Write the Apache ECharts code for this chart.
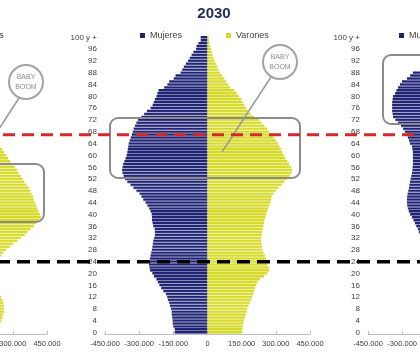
<!DOCTYPE html>
<html>
<head>
<meta charset="utf-8">
<script src="https://cdn.jsdelivr.net/npm/echarts@6/dist/echarts.min.js"></script>
<style>html,body{margin:0;padding:0;background:#fff;overflow:hidden;width:420px;height:361px}
#c{position:absolute;left:-263px;top:0;width:946px;height:361px}</style>
</head>
<body>
<div id="c"></div>
<script>
// ---- data (thousands of persons, by single age 0..100+) ----
var ageLabels = [];
for (var i = 0; i < 100; i++) ageLabels.push(String(i));
ageLabels.push('100 y +');

var titleCenter = '2030';
var legendNames = ['Mujeres', 'Varones'];
var xTicks = [-450000, -300000, -150000, 0, 150000, 300000, 450000];

// centre panel 2030
var mujeres2030 = [144,144,150,153,153,155,157,157,160,165,
 168,174,177,182,194,203,211,218,224,235,
 242,252,255,257,257,253,250,247,244,242,
 240,238,234,231,231,232,238,241,244,244,
 245,250,256,264,272,282,290,298,312,325,
 338,352,362,368,373,375,373,370,365,360,
 355,352,350,348,346,342,337,332,328,324,
 318,312,305,290,278,266,250,241,236,231,
 224,220,215,190,176,168,148,140,118,111,
 104,95,86,78,70,62,50,48,40,30,
 30];
var varones2030 = [152,153,155,158,161,165,168,172,174,180,
 186,192,196,200,204,208,214,220,230,248,
 262,270,268,263,260,257,252,246,241,239,
 237,235,236,238,240,242,245,248,250,254,
 258,262,266,272,276,279,282,290,300,312,
 325,338,350,362,368,371,366,358,350,342,
 335,328,322,316,310,302,290,280,270,262,
 250,238,226,205,190,178,170,162,155,148,
 138,128,118,100,90,82,74,64,55,48,
 42,36,31,26,22,19,16,12,8,6,
 6];
// left panel (previous year), only the men side is in view
var varonesLeft = [225,232,238,245,250,255,258,262,262,260,
 258,254,248,240,232,228,225,222,222,224,
 226,230,234,236,238,242,248,258,270,287,
 302,320,335,352,365,378,392,402,415,423,
 418,412,408,402,396,392,388,382,377,370,
 360,350,342,335,326,318,308,298,288,280,
 272,262,253,245,238,232,226,218,212,205,
 198,192,185,178,170,162,150,138,128,120,
 112,104,96,88,80,72,64,56,48,41,
 35,29,24,19,15,12,9,7,5,4,
 3];
// right panel (later year), only the women side is in view
var mujeresRight = [165,167,169,171,172,174,176,178,180,182,
 184,186,188,190,192,194,196,198,200,200,
 198,196,194,192,190,192,195,198,202,206,
 210,214,218,222,227,231,238,244,250,257,
 265,271,275,278,279,279,278,276,273,270,
 268,266,263,260,257,255,254,253,253,253,
 253,253,255,257,266,270,275,282,288,296,
 305,318,330,340,342,344,344,344,344,342,
 340,331,325,318,310,301,279,265,253,222,
 200,180,160,140,120,100,85,70,58,48,
 40];
var redLineAge = 67;
var blackLineAge = 24;

// ---- chart ----
var OFF = 263; // canvas is shifted left by this many px
var NAVY = '#22246F', NAVY_L = '#A9AEE0', YEL = '#D6DA2C', YEL_L = '#F1F4A6';
function grad(c1, c2) {
  return new echarts.graphic.LinearGradient(0, 0, 0, 1, [
    {offset: 0, color: c1}, {offset: 0.55, color: c1}, {offset: 1, color: c2}]);
}
function fmt(v) {
  if (v === 0) return '0';
  var s = Math.abs(v).toString().replace(/\B(?=(\d{3})+(?!\d))/g, '.');
  return (v < 0 ? '-' : '') + s;
}
function neg(a) { return a.map(function (v) { return -v * 1000; }); }
function pos(a) { return a.map(function (v) { return v * 1000; }); }

var AXF = '"Liberation Sans", Arial, sans-serif';
var panelLefts = [105, 368, 631];
var legendLefts = [138, 403, 662];
var grids = [], xAxes = [], yAxes = [], legends = [];
panelLefts.forEach(function (l, k) {
  grids.push({left: l, width: 205, top: 36, height: 298});
  xAxes.push({type: 'value', gridIndex: k, min: xTicks[0], max: xTicks[xTicks.length - 1], interval: 150000,
    axisLine: {show: true, lineStyle: {color: '#BFBFBF', width: 1}},
    axisTick: {show: true, inside: true, length: 3, lineStyle: {color: '#BFBFBF'}},
    splitLine: {show: false},
    axisLabel: {formatter: fmt, fontSize: 7.5, color: '#404040', margin: 6, fontFamily: AXF}});
  yAxes.push({type: 'category', gridIndex: k, data: ageLabels, position: 'left',
    axisLine: {show: false}, axisTick: {show: false},
    axisLabel: {interval: 3, fontSize: 8, color: '#404040', margin: 8, fontFamily: AXF}});
  legends.push({left: legendLefts[k], top: 31, padding: 0, itemWidth: 5, itemHeight: 5, itemGap: 44, icon: 'rect', orient: 'horizontal',
    textStyle: {fontSize: 9, color: '#404040', fontFamily: AXF},
    data: [{name: legendNames[0], itemStyle: {color: NAVY}}, {name: legendNames[1], itemStyle: {color: YEL}}]});
});

var barCommon = {type: 'bar', barCategoryGap: '0%', barGap: '-100%', animation: false, silent: true};
var chart = echarts.init(document.getElementById('c'), null, {renderer: 'canvas'});
chart.setOption({
  backgroundColor: '#fff',
  animation: false,
  title: {text: titleCenter, left: 209 + OFF, top: 1, textAlign: 'center',
    textStyle: {fontSize: 15, fontWeight: 'bold', color: '#1F2A5C', fontFamily: AXF}},
  legend: legends,
  grid: grids,
  xAxis: xAxes,
  yAxis: yAxes,
  series: [
    Object.assign({}, barCommon, {name: 'Varones', xAxisIndex: 0, yAxisIndex: 0, data: pos(varonesLeft), itemStyle: {color: grad(YEL, YEL_L)}}),
    Object.assign({}, barCommon, {name: 'Mujeres', xAxisIndex: 1, yAxisIndex: 1, data: neg(mujeres2030), itemStyle: {color: grad(NAVY, NAVY_L)}}),
    Object.assign({}, barCommon, {name: 'Varones', xAxisIndex: 1, yAxisIndex: 1, data: pos(varones2030), itemStyle: {color: grad(YEL, YEL_L)}}),
    Object.assign({}, barCommon, {name: 'Mujeres', xAxisIndex: 2, yAxisIndex: 2, data: neg(mujeresRight), itemStyle: {color: grad(NAVY, NAVY_L)}})
  ]
});

var yRed = chart.convertToPixel({yAxisIndex: 1}, redLineAge);
var yBlack = chart.convertToPixel({yAxisIndex: 1}, blackLineAge);
var GR = '#8C8C8C';
function bubble(cx, cy) {
  return [
    {type: 'circle', z: 60, shape: {cx: cx + OFF, cy: cy, r: 17}, style: {fill: '#fff', stroke: '#A3A3A3', lineWidth: 2}},
    {type: 'text', z: 61, x: cx + OFF, y: cy, style: {text: 'BABY\nBOOM', fill: '#8E8E8E', fontSize: 7, lineHeight: 10,
      align: 'center', verticalAlign: 'middle', fontFamily: AXF}}
  ];
}
function rect(x, y, w, h) {
  return {type: 'rect', z: 50, shape: {x: x + OFF, y: y, width: w, height: h, r: 8}, style: {fill: 'none', stroke: GR, lineWidth: 2}};
}
function seg(x1, y1, x2, y2) {
  return {type: 'line', z: 55, shape: {x1: x1 + OFF, y1: y1, x2: x2 + OFF, y2: y2}, style: {stroke: '#9A9A9A', lineWidth: 1.5}};
}
var g = [
  rect(110, 118, 190, 60), rect(-153, 164, 197, 58), rect(383, 55, 190, 69),
  seg(271, 77, 222, 152), seg(19, 98, -12, 146),
  {type: 'line', z: 70, shape: {x1: 0, y1: yRed, x2: 946, y2: yRed}, style: {stroke: '#D42A2A', lineWidth: 3, lineDash: [12, 7]}},
  {type: 'line', z: 70, shape: {x1: 0, y1: yBlack, x2: 946, y2: yBlack}, style: {stroke: '#000', lineWidth: 3.5, lineDash: [13, 7]}}
].concat(bubble(280, 62)).concat(bubble(26, 82));
chart.setOption({graphic: g});
</script>
</body>
</html>
